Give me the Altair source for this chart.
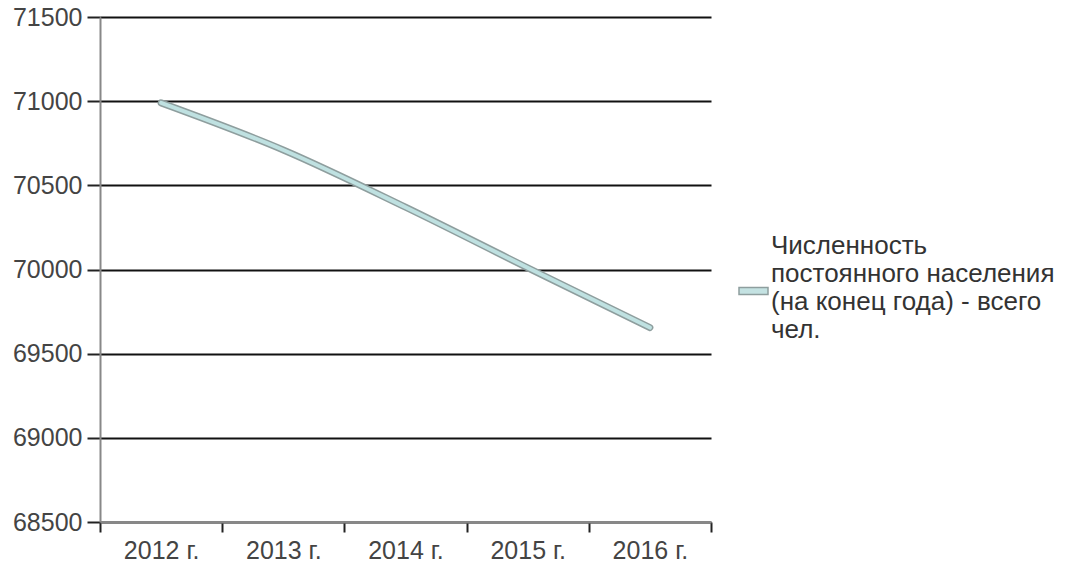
import altair as alt
import pandas as pd

years = ["2012 г.", "2013 г.", "2014 г.", "2015 г.", "2016 г."]
population = [70990, 70710, 70370, 70010, 69655]
series_name = "Численность\nпостоянного населения\n(на конец года) - всего\nчел."

df = pd.DataFrame({"year": years, "value": population, "series": [series_name] * len(years)})

FONT = "Liberation Sans"

x = alt.X("year:N", sort=years, title=None,
          scale=alt.Scale(paddingInner=0, paddingOuter=0),
          axis=alt.Axis(labelAngle=0, labelFontSize=25, labelColor="#444", labelFont=FONT,
                        labelPadding=6, tickBand="extent", ticks=True, tickSize=10,
                        tickColor="#222", tickWidth=2, domainColor="#888", domainWidth=2,
                        grid=False))
y = alt.Y("value:Q", title=None,
          scale=alt.Scale(domain=[68500, 71500], nice=False, zero=False),
          axis=alt.Axis(values=[68500, 69000, 69500, 70000, 70500, 71000, 71500],
                        format="d", labelFontSize=25, labelColor="#444", labelFont=FONT,
                        labelPadding=5, tickSize=13, tickColor="#222", tickWidth=2,
                        domainColor="#888", domainWidth=2,
                        grid=True, gridColor="#111", gridWidth=2))

# legend symbol: a short bar drawn below the symbol anchor so it sits beside the middle of the label block
symbol_path = "M-1,2.9H1V3.38H-1Z"

outline = alt.Chart(df).mark_line(strokeWidth=7, interpolate="monotone",
                                  strokeCap="round").encode(
    x=x, y=y,
    color=alt.Color("series:N", title=None,
                    scale=alt.Scale(range=["#8e9e9e"]),
                    legend=alt.Legend(orient="none", legendX=638, legendY=213,
                                      symbolType=symbol_path, symbolSize=841,
                                      symbolFillColor="#c4e2e2", symbolStrokeWidth=1.5,
                                      labelFontSize=26, labelColor="#333", labelFont=FONT,
                                      labelLimit=400, labelOffset=2,
                                      labelExpr="split(datum.label, '\\n')")))
inner = alt.Chart(df).mark_line(color="#bfe1e1", strokeWidth=4, interpolate="monotone",
                                strokeCap="round").encode(x=x, y=y)

chart = alt.layer(outline, inner).properties(
    width=611, height=505,
    autosize=alt.AutoSizeParams(type="none"),
    padding={"left": 92, "top": 9, "right": 347, "bottom": 44},
).configure(font=FONT, view=alt.ViewConfig(stroke=None))

chart.save("out.html", embed_options={"renderer": "svg", "actions": False})
